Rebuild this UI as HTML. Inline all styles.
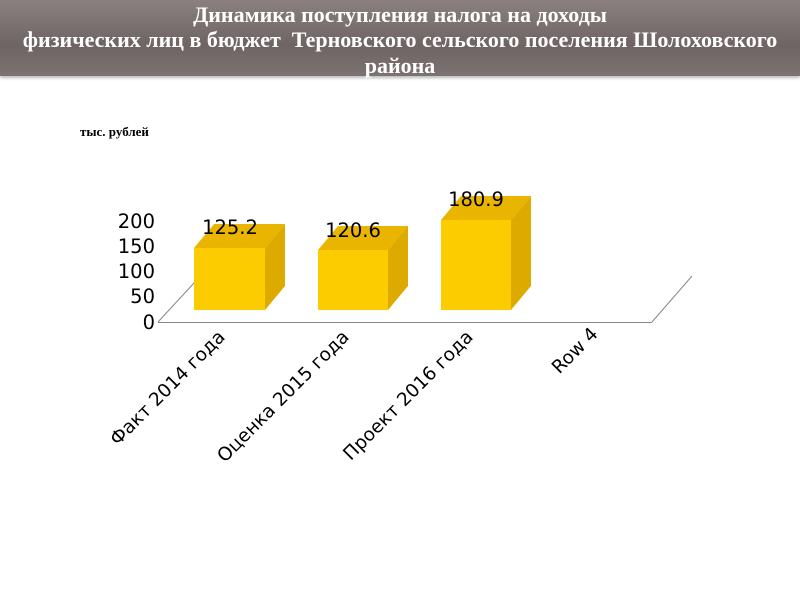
<!DOCTYPE html>
<html><head><meta charset="utf-8"><style>
body{margin:0;width:800px;height:600px;background:#fff;overflow:hidden;position:relative;font-family:"Liberation Sans","DejaVu Sans",sans-serif}
#hdr{position:absolute;left:0;top:0;width:800px;height:76px;background:linear-gradient(#8b8080,#6f6464 60%,#7d7272);box-shadow:0 2px 3px #bbb}
#hdr div{position:absolute;left:0;width:800px;text-align:center;color:#fff;font-family:"Liberation Serif",serif;font-weight:bold;font-size:22px;line-height:24px;white-space:nowrap}
</style></head><body>
<div id="hdr">
<div style="top:3px">Динамика поступления налога на доходы</div>
<div style="top:28px">физических лиц в бюджет&nbsp; Терновского сельского поселения Шолоховского</div>
<div style="top:54px">района</div>
</div>
<svg width="800" height="600" style="position:absolute;left:0;top:0">
<text x="80" y="136" font-family="Liberation Serif,serif" font-weight="bold" font-size="13">тыс. рублей</text>
<g stroke="#888" stroke-width="1" fill="none">
<line x1="158" y1="322.5" x2="652" y2="322.5"/>
<line x1="158" y1="322" x2="194" y2="283"/>
<line x1="652" y1="322" x2="692" y2="276"/>
</g>
<g font-family="DejaVu Sans,sans-serif" font-size="19.5" fill="#000" text-anchor="end">
<text x="155" y="228">200</text>
<text x="155" y="253">150</text>
<text x="155" y="278">100</text>
<text x="155" y="303">50</text>
<text x="155" y="329">0</text>
</g>
<g>
<polygon points="194,248 214,224 285,224 265,248" fill="#e9b500"/>
<polygon points="265,248 285,224 285,286 265,310" fill="#ddaa00"/>
<rect x="194" y="248" width="71" height="62" fill="#fdcc00"/>
<polygon points="318,250 338,226 408,226 388,250" fill="#e9b500"/>
<polygon points="388,250 408,226 408,286 388,310" fill="#ddaa00"/>
<rect x="318" y="250" width="70" height="60" fill="#fdcc00"/>
<polygon points="441,220 461,196 531,196 511,220" fill="#e9b500"/>
<polygon points="511,220 531,196 531,286 511,310" fill="#ddaa00"/>
<rect x="441" y="220" width="70" height="90" fill="#fdcc00"/>
</g>
<g font-family="DejaVu Sans,sans-serif" font-size="19.5" fill="#000" text-anchor="middle">
<text x="230" y="234">125.2</text>
<text x="353" y="237">120.6</text>
<text x="476" y="206">180.9</text>
</g>
<g font-family="DejaVu Sans,sans-serif" font-size="18.5" fill="#000" text-anchor="end">
<text transform="translate(226,338) rotate(-45)">Факт 2014 года</text>
<text transform="translate(350,338) rotate(-45)">Оценка 2015 года</text>
<text transform="translate(474,338) rotate(-45)">Проект 2016 года</text>
<text transform="translate(599,335) rotate(-45)">Row 4</text>
</g>
</svg>
</body></html>
